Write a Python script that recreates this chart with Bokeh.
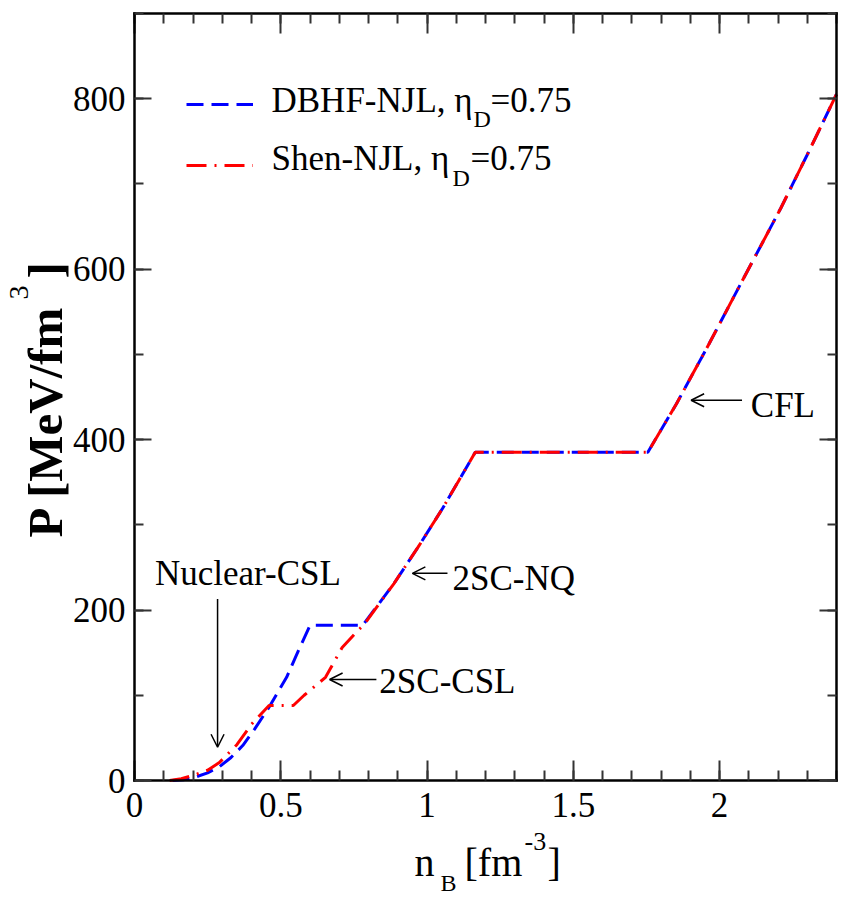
import math
from bokeh.plotting import figure
from bokeh.models import (Range1d, LinearAxis, SingleIntervalTicker, Legend, LegendItem,
                          Label, Arrow, OpenHead)
from bokeh.embed import file_html
from bokeh.resources import INLINE

# ---------------- data ----------------
dbhf_n = [0.13, 0.17, 0.20, 0.25, 0.29, 0.33, 0.37, 0.41, 0.46, 0.52, 0.56, 0.60,
          0.78, 0.887, 0.97, 1.053, 1.109, 1.165,
          1.755, 1.853, 1.964, 2.076, 2.209, 2.30, 2.40]
dbhf_p = [0, 1, 3, 9, 16, 27, 41, 60, 86, 121, 152, 182,
          182, 231, 274, 319, 352, 385,
          385, 442, 512, 585, 671, 734, 805]

shen_n = [0.12, 0.16, 0.20, 0.25, 0.29, 0.35, 0.40, 0.46, 0.543, 0.58, 0.653, 0.71, 0.764, 0.785,
          0.887, 0.97, 1.053, 1.109, 1.165,
          1.755, 1.853, 1.964, 2.076, 2.209, 2.30, 2.40]
shen_p = [0, 2, 6, 12, 21, 42, 66, 88, 88, 100, 121, 156, 176, 183,
          231, 274, 319, 352, 385,
          385, 442, 512, 585, 671, 734, 805]

x_ticks = [0, 0.5, 1, 1.5, 2]
x_tick_labels = ["0", "0.5", "1", "1.5", "2"]
x_min, x_max = 0, 2.4
y_min, y_max = 0, 900

# phase annotations: text and position (data units)
ann_text = ["Nuclear-CSL", "2SC-CSL", "2SC-NQ", "CFL"]
ann_x = [0.07, 0.837, 1.087, 2.107]
ann_y = [229, 102, 223, 425]
# arrows: start -> end (data units)
arr_x0 = [0.284, 0.827, 1.070, 2.077]
arr_y0 = [213, 118.5, 243, 446]
arr_x1 = [0.284, 0.667, 0.950, 1.903]
arr_y1 = [39, 118.5, 243, 446]

FONT = "Liberation Serif"
W, H = 838, 897
X0, SX = 134, 292.5     # pixel of n=0, pixels per unit
Y0, SY = 780, 0.8525    # pixel of P=0, pixels per unit
BASE_SHIFT = 0.35       # correction of the rendered baseline (fraction of font size)

def fx(px):
    return (px - X0) / SX

def fy(py):
    return (Y0 - py) / SY

p = figure(frame_width=W, frame_height=H,
           x_range=Range1d(fx(0), fx(W)), y_range=Range1d(fy(H), fy(0)),
           output_backend="svg", toolbar_location=None,
           min_border=0, min_border_left=0, min_border_right=0,
           min_border_top=0, min_border_bottom=0,
           background_fill_color="white", border_fill_color="white",
           x_axis_location=None, y_axis_location=None)
p.xgrid.visible = False
p.ygrid.visible = False
p.outline_line_color = None

def make_axis(loc, interval, minors, bounds, tick_in, minor_in, show_labels, standoff=0):
    ax = LinearAxis(ticker=SingleIntervalTicker(interval=interval, num_minor_ticks=minors),
                    fixed_location=loc, bounds=bounds)
    ax.axis_line_color = "black"
    ax.axis_line_width = 2.5
    ax.axis_line_cap = "square"
    ax.major_tick_in = tick_in
    ax.major_tick_out = 0
    ax.minor_tick_in = minor_in
    ax.minor_tick_out = 0
    ax.major_tick_line_color = "#333333"
    ax.minor_tick_line_color = "#333333"
    ax.major_tick_line_width = 2
    ax.minor_tick_line_width = 2
    if show_labels:
        ax.major_label_text_font = FONT
        ax.major_label_text_font_size = "35px"
        ax.major_label_text_color = "black"
        ax.major_label_standoff = standoff
    else:
        ax.major_label_text_color = None
    return ax

bottom = make_axis(y_min, 0.5, 5, (x_min, x_max), 20, 10, True, 12)
bottom.major_label_overrides = {v: l for v, l in zip(x_ticks, x_tick_labels)}
p.add_layout(bottom, "below")
left = make_axis(x_min, 200, 2, (y_min, y_max), 17, 9, True, 9)
p.add_layout(left, "left")
top = make_axis(y_max, 0.5, 5, (x_min, x_max), 20, 10, False)
p.add_layout(top, "above")
right = make_axis(x_max, 200, 2, (y_min, y_max), 17, 9, False)
p.add_layout(right, "right")

rb = p.line(dbhf_n, dbhf_p, line_color="#0000ff", line_width=3, line_dash="17 8")
rr = p.line(shen_n, shen_p, line_color="#ff0000", line_width=3, line_dash="20 8 2 8")

legend = Legend(items=[LegendItem(label=" ", renderers=[rb]),
                       LegendItem(label=" ", renderers=[rr])],
                location=(186, H - 175), padding=0, margin=0, spacing=41,
                glyph_width=67, glyph_height=20, label_height=20, label_width=1,
                label_standoff=0, label_text_font_size="10px",
                border_line_color=None, background_fill_alpha=0)
p.add_layout(legend)

def lab(x, y, text, size, angle=0.0, bold=False):
    shift = BASE_SHIFT * size
    if angle == 0.0:
        y = y + shift / SY
    else:
        x = x - shift / SX
    p.add_layout(Label(x=x, y=y, text=text, text_font=FONT, text_font_size=f"{size}px",
                       text_align="left", text_baseline="alphabetic", angle=angle,
                       text_font_style="bold" if bold else "normal", text_color="black"))

# legend texts (positions in page pixels)
lab(fx(271), fy(112), "DBHF-NJL, η", 35)
lab(fx(473), fy(127), "D", 24)
lab(fx(490), fy(112), "=0.75", 35)
lab(fx(271), fy(170), "Shen-NJL, η", 35)
lab(fx(452), fy(186), "D", 24)
lab(fx(470), fy(170), "=0.75", 35)

# phase annotations
for t, x, y in zip(ann_text, ann_x, ann_y):
    lab(x, y, t, 35)
for x0, y0, x1, y1 in zip(arr_x0, arr_y0, arr_x1, arr_y1):
    p.add_layout(Arrow(end=OpenHead(size=13, line_width=1.5, line_color="black"),
                       x_start=x0, y_start=y0, x_end=x1, y_end=y1,
                       line_width=1.5, line_color="black"))

# x axis title: n_B [fm^-3]
lab(fx(414), fy(876), "n", 40)
lab(fx(440), fy(891), "B", 24)
lab(fx(464), fy(876), "[fm", 40)
lab(fx(524), fy(850), "-3", 26)
lab(fx(547), fy(876), "]", 40)

# y axis title: P [MeV/fm^3]
lab(fx(62), fy(537), "P [MeV/fm", 49, angle=math.pi / 2, bold=True)
lab(fx(28), fy(299), "3", 28, angle=math.pi / 2)
lab(fx(62), fy(278), "]", 49, angle=math.pi / 2, bold=True)

open("out.html", "w").write(file_html(p, INLINE))
